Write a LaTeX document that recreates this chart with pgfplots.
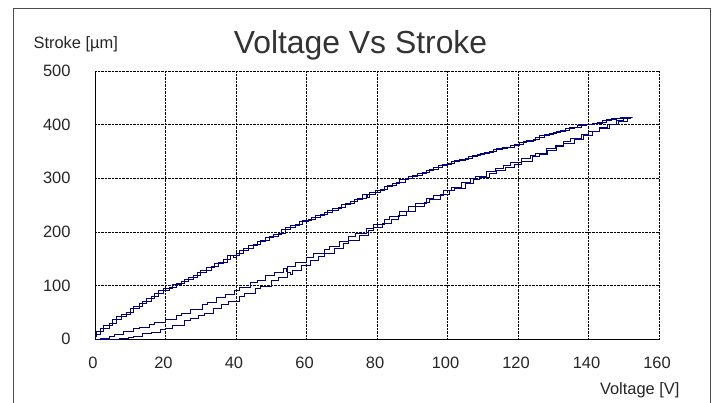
\documentclass[border=0pt]{standalone}
\usepackage{pgfplots}
\pgfplotsset{compat=1.18}
\usepackage{fontspec}
\setmainfont{Liberation Sans}
\definecolor{curve}{RGB}{0,0,128}
\begin{document}
\begin{tikzpicture}
\useasboundingbox (0,0) rectangle (713bp,403bp);
\fill[white] (0,0) rectangle (713bp,403bp);
\draw[black!70, line width=1bp] (13.5bp,-5bp) -- (13.5bp,394.5bp) -- (710.5bp,394.5bp) -- (710.5bp,-5bp);
\begin{axis}[
  at={(95bp,63.7bp)}, anchor=south west,
  scale only axis, width=564bp, height=268.3bp,
  xmin=0, xmax=160, ymin=0, ymax=500,
  xtick={0,20,...,160}, ytick={0,100,...,500},
  axis lines=left, axis line style={-, black, line width=0.9bp},
  grid=major, major grid style={black, densely dotted, line width=0.7bp},
  major tick length=0pt,
  tick label style={font=\fontsize{16.5}{19}\selectfont, inner sep=0pt, text=black!85},
  /pgf/number format/assume math mode=true,
  yticklabel style={anchor=east, xshift=-24.3bp},
  xticklabel style={anchor=north, yshift=-18bp, xshift=-2bp},
  title={Voltage Vs Stroke},
  every axis title/.style={at={(axis description cs:0.4707,1.066)}, anchor=base, font=\fontsize{32}{37}\selectfont, text=black!80},
  xlabel={Voltage [V]},
  every axis x label/.style={at={(axis description cs:1.0426,-0.2039)}, anchor=base east, font=\fontsize{16.5}{19}\selectfont, text=black!85},
  ylabel={Stroke [µm]},
  every axis y label/.style={at={(axis description cs:-0.1152,1.0846)}, anchor=base west, font=\fontsize{16.5}{19}\selectfont, text=black!85},
]
% cycle 1: rising branch A, then falling branch
\addplot[const plot, curve, line width=1bp] coordinates {
(0,0) (1.5,2) (4,6) (5.5,9) (8,14) (11,20) (12.5,22) (15.5,28) (17,31) (20,37)
(23,44) (24.5,48) (27,55) (30.5,64) (32,68) (34.5,77) (37,84) (39.5,91) (41,96)
(44,105) (46,110) (48.5,118) (51,125) (53.5,132) (54.2,127) (54.5,135) (57,143)
(60,152) (62,159) (65,168) (66.5,173) (69.5,183) (72,191) (74,198) (77,207)
(79,214) (82,224) (83.5,228) (86.5,238) (89,247) (91,253) (94,262) (96,268)
(99,277) (101,283) (104,292) (106.5,299) (108,303) (111,312) (113.5,318) (116,324)
(118,329) (121,337) (123.5,343) (125,347) (128,355) (130.5,361) (133,368) (135,374)
(138,382) (140,387) (143,394) (145.5,401) (148,407) (150,412) (152,413)
(152.5,413) (150,412) (148,409) (145,404) (142.5,402) (141,400) (138,395) (136,392)
(133.5,387) (131,383) (129,379) (126,372) (124.5,369) (121.5,363) (119,358) (117,355)
(114,350) (112,346) (109.5,342) (107,337) (105,333) (102,327) (100,323) (97.5,317)
(95,311) (93,306) (90,299) (88,293) (85.5,286) (83,279) (81,274) (78,265) (77.2,270)
(76,260) (73.5,253) (71,246) (69,240) (66,232) (64,227) (61.5,221) (59,214) (57,208)
(54,198) (52,192) (49.5,184) (47,176) (45,169) (42,159) (40,152) (39.2,156) (37.5,144)
(35,135) (33,128) (30,118) (28,112) (25.5,104) (23,96) (21,91) (18,79) (16,71)
(13.5,61) (11,50) (9,42) (6,29) (4,21) (1.5,9) (0,2)
};
% cycle 2: rising branch B, then falling branch
\addplot[const plot, curve, line width=1bp] coordinates {
(0,0) (3,0) (5,0) (7,1) (9.5,3) (11,5) (13.5,11) (16,13) (18.5,18) (20,21)
(22,26) (25.5,35) (27,38) (29.5,45) (31,49) (33.5,57) (36,64) (38,71) (41,80)
(42.5,85) (45.5,94) (47,99) (50,109) (52,116) (54.5,124) (55.5,121) (56,129)
(58.5,138) (61,146) (63.5,155) (65,160) (68,170) (70.5,179) (72,184) (75,194)
(77.5,202) (79,208) (81.5,216) (84,224) (86,230) (88.5,239) (91,247) (93.5,255)
(95,260) (98,270) (100.5,277) (102,281) (105,290) (107.5,297) (109,301) (112,309)
(114,314) (116.5,320) (119,326) (121,332) (124,340) (126,345) (128.5,352) (131,359)
(133,364) (136,372) (138.5,380) (141,387) (143,392) (146,400) (148.5,406) (151,412)
(151.5,413) (149,411) (146.5,407) (144,403) (141.5,401) (139.5,398) (137,394)
(134.5,390) (132,386) (130,382) (127.5,376) (125,371) (122.5,366) (120.5,362)
(118,358) (115.5,353) (113,349) (110.5,345) (108.5,341) (106,336) (103.5,331)
(101,326) (98.5,320) (96,314) (94,309) (91.5,303) (89,297) (86.5,290) (84.5,285)
(82,278) (79.5,270) (77,263) (74.5,257) (72.5,251) (70,244) (67.5,237) (65,231)
(62.5,224) (60.5,219) (58,212) (55.5,204) (53,196) (50.5,189) (48.5,182) (46,174)
(43.5,165) (41,157) (38.5,149) (36.5,142) (34,133) (31.5,124) (29,116) (26.5,108)
(24.5,102) (22,94) (19.5,85) (17,76) (14.5,66) (12.5,58) (10,47) (7.5,37) (5,26)
(2.5,15) (0.5,6) (0,3)
};
\end{axis}
\end{tikzpicture}
\end{document}
